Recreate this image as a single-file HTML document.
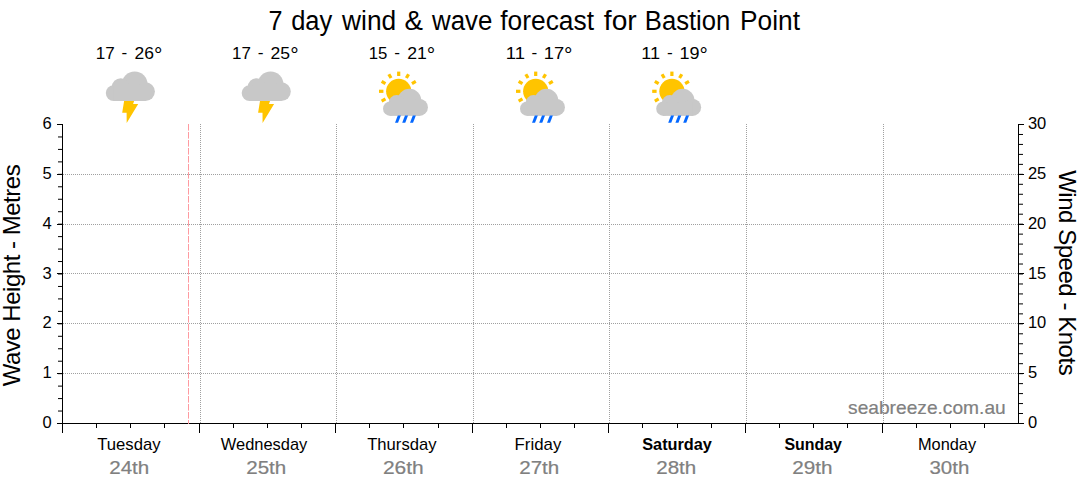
<!DOCTYPE html>
<html><head><meta charset="utf-8"><title>7 day wind &amp; wave forecast for Bastion Point</title>
<style>html,body{margin:0;padding:0;background:#fff}body{width:1080px;height:490px;overflow:hidden;font-family:"Liberation Sans",sans-serif}svg{display:block;font-family:"Liberation Sans",sans-serif}</style>
</head><body>
<svg width="1080" height="490" viewBox="0 0 1080 490">
<rect width="1080" height="490" fill="#fff"/>
<g shape-rendering="crispEdges" fill="none" stroke="#a0a0a0" stroke-width="1" stroke-dasharray="1 1">
<line x1="63" y1="174.5" x2="1018" y2="174.5"/>
<line x1="63" y1="224.5" x2="1018" y2="224.5"/>
<line x1="63" y1="273.5" x2="1018" y2="273.5"/>
<line x1="63" y1="323.5" x2="1018" y2="323.5"/>
<line x1="63" y1="373.5" x2="1018" y2="373.5"/>
<line x1="200.5" y1="124" x2="200.5" y2="423"/>
<line x1="336.5" y1="124" x2="336.5" y2="423"/>
<line x1="473.5" y1="124" x2="473.5" y2="423"/>
<line x1="609.5" y1="124" x2="609.5" y2="423"/>
<line x1="746.5" y1="124" x2="746.5" y2="423"/>
<line x1="883.5" y1="124" x2="883.5" y2="423"/>
</g>
<g shape-rendering="crispEdges" fill="#000">
<rect x="62" y="124" width="1" height="309"/>
<rect x="57" y="423" width="967" height="1"/>
<rect x="1018" y="124" width="1" height="300"/>
<rect x="57" y="124" width="5" height="1"/>
<rect x="1019" y="124" width="5" height="1"/>
<rect x="57" y="174" width="5" height="1"/>
<rect x="1019" y="174" width="5" height="1"/>
<rect x="57" y="224" width="5" height="1"/>
<rect x="1019" y="224" width="5" height="1"/>
<rect x="57" y="273" width="5" height="1"/>
<rect x="1019" y="273" width="5" height="1"/>
<rect x="57" y="323" width="5" height="1"/>
<rect x="1019" y="323" width="5" height="1"/>
<rect x="57" y="373" width="5" height="1"/>
<rect x="1019" y="373" width="5" height="1"/>
<rect x="199" y="424" width="1" height="9"/>
<rect x="335" y="424" width="1" height="9"/>
<rect x="472" y="424" width="1" height="9"/>
<rect x="608" y="424" width="1" height="9"/>
<rect x="745" y="424" width="1" height="9"/>
<rect x="882" y="424" width="1" height="9"/>
<rect x="96" y="424" width="1" height="4"/>
<rect x="130" y="424" width="1" height="4"/>
<rect x="164" y="424" width="1" height="4"/>
<rect x="233" y="424" width="1" height="4"/>
<rect x="267" y="424" width="1" height="4"/>
<rect x="301" y="424" width="1" height="4"/>
<rect x="369" y="424" width="1" height="4"/>
<rect x="403" y="424" width="1" height="4"/>
<rect x="438" y="424" width="1" height="4"/>
<rect x="506" y="424" width="1" height="4"/>
<rect x="540" y="424" width="1" height="4"/>
<rect x="574" y="424" width="1" height="4"/>
<rect x="642" y="424" width="1" height="4"/>
<rect x="677" y="424" width="1" height="4"/>
<rect x="711" y="424" width="1" height="4"/>
<rect x="779" y="424" width="1" height="4"/>
<rect x="813" y="424" width="1" height="4"/>
<rect x="847" y="424" width="1" height="4"/>
<rect x="916" y="424" width="1" height="4"/>
<rect x="950" y="424" width="1" height="4"/>
<rect x="984" y="424" width="1" height="4"/>
</g>
<g stroke="#000" stroke-width="1">
<line x1="58" y1="136.96" x2="62" y2="136.96"/>
<line x1="58" y1="149.42" x2="62" y2="149.42"/>
<line x1="58" y1="161.88" x2="62" y2="161.88"/>
<line x1="58" y1="174.33" x2="62" y2="174.33"/>
<line x1="58" y1="186.79" x2="62" y2="186.79"/>
<line x1="58" y1="199.25" x2="62" y2="199.25"/>
<line x1="58" y1="211.71" x2="62" y2="211.71"/>
<line x1="58" y1="224.17" x2="62" y2="224.17"/>
<line x1="58" y1="236.62" x2="62" y2="236.62"/>
<line x1="58" y1="249.08" x2="62" y2="249.08"/>
<line x1="58" y1="261.54" x2="62" y2="261.54"/>
<line x1="58" y1="274.00" x2="62" y2="274.00"/>
<line x1="58" y1="286.46" x2="62" y2="286.46"/>
<line x1="58" y1="298.92" x2="62" y2="298.92"/>
<line x1="58" y1="311.38" x2="62" y2="311.38"/>
<line x1="58" y1="323.83" x2="62" y2="323.83"/>
<line x1="58" y1="336.29" x2="62" y2="336.29"/>
<line x1="58" y1="348.75" x2="62" y2="348.75"/>
<line x1="58" y1="361.21" x2="62" y2="361.21"/>
<line x1="58" y1="373.67" x2="62" y2="373.67"/>
<line x1="58" y1="386.12" x2="62" y2="386.12"/>
<line x1="58" y1="398.58" x2="62" y2="398.58"/>
<line x1="58" y1="411.04" x2="62" y2="411.04"/>
<line x1="1019" y1="134.47" x2="1023" y2="134.47"/>
<line x1="1019" y1="144.43" x2="1023" y2="144.43"/>
<line x1="1019" y1="154.40" x2="1023" y2="154.40"/>
<line x1="1019" y1="164.37" x2="1023" y2="164.37"/>
<line x1="1019" y1="174.33" x2="1023" y2="174.33"/>
<line x1="1019" y1="184.30" x2="1023" y2="184.30"/>
<line x1="1019" y1="194.27" x2="1023" y2="194.27"/>
<line x1="1019" y1="204.23" x2="1023" y2="204.23"/>
<line x1="1019" y1="214.20" x2="1023" y2="214.20"/>
<line x1="1019" y1="224.17" x2="1023" y2="224.17"/>
<line x1="1019" y1="234.13" x2="1023" y2="234.13"/>
<line x1="1019" y1="244.10" x2="1023" y2="244.10"/>
<line x1="1019" y1="254.07" x2="1023" y2="254.07"/>
<line x1="1019" y1="264.03" x2="1023" y2="264.03"/>
<line x1="1019" y1="274.00" x2="1023" y2="274.00"/>
<line x1="1019" y1="283.97" x2="1023" y2="283.97"/>
<line x1="1019" y1="293.93" x2="1023" y2="293.93"/>
<line x1="1019" y1="303.90" x2="1023" y2="303.90"/>
<line x1="1019" y1="313.87" x2="1023" y2="313.87"/>
<line x1="1019" y1="323.83" x2="1023" y2="323.83"/>
<line x1="1019" y1="333.80" x2="1023" y2="333.80"/>
<line x1="1019" y1="343.77" x2="1023" y2="343.77"/>
<line x1="1019" y1="353.73" x2="1023" y2="353.73"/>
<line x1="1019" y1="363.70" x2="1023" y2="363.70"/>
<line x1="1019" y1="373.67" x2="1023" y2="373.67"/>
<line x1="1019" y1="383.63" x2="1023" y2="383.63"/>
<line x1="1019" y1="393.60" x2="1023" y2="393.60"/>
<line x1="1019" y1="403.57" x2="1023" y2="403.57"/>
<line x1="1019" y1="413.53" x2="1023" y2="413.53"/>
</g>
<line x1="188.5" y1="124" x2="188.5" y2="424" stroke="#ff9aa0" stroke-width="1" stroke-dasharray="6.6 1.4"/>
<g font-size="16.5" fill="#000">
<text x="51.7" y="129.05" text-anchor="end">6</text>
<text x="1027.9" y="129.05">30</text>
<text x="51.7" y="178.88" text-anchor="end">5</text>
<text x="1027.9" y="178.88">25</text>
<text x="51.7" y="228.72" text-anchor="end">4</text>
<text x="1027.9" y="228.72">20</text>
<text x="51.7" y="278.55" text-anchor="end">3</text>
<text x="1027.9" y="278.55">15</text>
<text x="51.7" y="328.38" text-anchor="end">2</text>
<text x="1027.9" y="328.38">10</text>
<text x="51.7" y="378.22" text-anchor="end">1</text>
<text x="1027.9" y="378.22">5</text>
<text x="51.7" y="428.05" text-anchor="end">0</text>
<text x="1027.9" y="428.05">0</text>
</g>
<text transform="translate(20.2,275.35) rotate(-90)" text-anchor="middle" font-size="24" textLength="222" lengthAdjust="spacing" fill="#000">Wave Height - Metres</text>
<text transform="translate(1058.6,272.9) rotate(90)" text-anchor="middle" font-size="24" textLength="205.5" lengthAdjust="spacing" fill="#000">Wind Speed - Knots</text>
<text x="268.39" y="30.00" font-size="27" fill="#000" textLength="14.00" lengthAdjust="spacingAndGlyphs">7</text>
<text x="291.18" y="30.00" font-size="27" fill="#000" textLength="41.08" lengthAdjust="spacingAndGlyphs">day</text>
<text x="342.11" y="30.00" font-size="27" fill="#000" textLength="54.14" lengthAdjust="spacingAndGlyphs">wind</text>
<text x="404.54" y="30.00" font-size="27" fill="#000" textLength="18.46" lengthAdjust="spacingAndGlyphs">&amp;</text>
<text x="432.11" y="30.00" font-size="27" fill="#000" textLength="60.28" lengthAdjust="spacingAndGlyphs">wave</text>
<text x="500.22" y="30.00" font-size="27" fill="#000" textLength="93.74" lengthAdjust="spacingAndGlyphs">forecast</text>
<text x="603.84" y="30.00" font-size="27" fill="#000" textLength="32.87" lengthAdjust="spacingAndGlyphs">for</text>
<text x="644.85" y="30.00" font-size="27" fill="#000" textLength="85.48" lengthAdjust="spacingAndGlyphs">Bastion</text>
<text x="740.09" y="30.00" font-size="27" fill="#000" textLength="59.91" lengthAdjust="spacingAndGlyphs">Point</text>
<text x="95.88" y="59.00" font-size="16.5" fill="#000" textLength="19.00" lengthAdjust="spacingAndGlyphs">17</text>
<text x="121.63" y="58.30" font-size="16.5" fill="#000" textLength="5.70" lengthAdjust="spacingAndGlyphs">-</text>
<text x="134.50" y="59.00" font-size="16.5" fill="#000" textLength="19.41" lengthAdjust="spacingAndGlyphs">26</text>
<text x="153.90" y="61.80" font-size="19.5" fill="#000" textLength="8.44" lengthAdjust="spacingAndGlyphs">°</text>
<text x="232.06" y="59.00" font-size="16.5" fill="#000" textLength="18.85" lengthAdjust="spacingAndGlyphs">17</text>
<text x="257.65" y="58.30" font-size="16.5" fill="#000" textLength="5.77" lengthAdjust="spacingAndGlyphs">-</text>
<text x="270.54" y="59.00" font-size="16.5" fill="#000" textLength="19.52" lengthAdjust="spacingAndGlyphs">25</text>
<text x="290.15" y="61.80" font-size="19.5" fill="#000" textLength="8.46" lengthAdjust="spacingAndGlyphs">°</text>
<text x="368.77" y="59.00" font-size="16.5" fill="#000" textLength="18.65" lengthAdjust="spacingAndGlyphs">15</text>
<text x="394.38" y="58.30" font-size="16.5" fill="#000" textLength="5.75" lengthAdjust="spacingAndGlyphs">-</text>
<text x="407.20" y="59.00" font-size="16.5" fill="#000" textLength="19.61" lengthAdjust="spacingAndGlyphs">21</text>
<text x="426.70" y="61.80" font-size="19.5" fill="#000" textLength="8.49" lengthAdjust="spacingAndGlyphs">°</text>
<text x="505.77" y="59.00" font-size="16.5" fill="#000" textLength="19.13" lengthAdjust="spacingAndGlyphs">11</text>
<text x="531.52" y="58.30" font-size="16.5" fill="#000" textLength="5.74" lengthAdjust="spacingAndGlyphs">-</text>
<text x="543.81" y="59.00" font-size="16.5" fill="#000" textLength="20.36" lengthAdjust="spacingAndGlyphs">17</text>
<text x="563.92" y="61.80" font-size="19.5" fill="#000" textLength="8.49" lengthAdjust="spacingAndGlyphs">°</text>
<text x="641.39" y="59.00" font-size="16.5" fill="#000" textLength="18.85" lengthAdjust="spacingAndGlyphs">11</text>
<text x="666.90" y="58.30" font-size="16.5" fill="#000" textLength="5.75" lengthAdjust="spacingAndGlyphs">-</text>
<text x="679.46" y="59.00" font-size="16.5" fill="#000" textLength="20.07" lengthAdjust="spacingAndGlyphs">19</text>
<text x="699.54" y="61.80" font-size="19.5" fill="#000" textLength="8.31" lengthAdjust="spacingAndGlyphs">°</text>
<text x="97.22" y="450.00" font-size="16.4" fill="#000" textLength="63.31" lengthAdjust="spacingAndGlyphs">Tuesday</text>
<text x="220.75" y="450.00" font-size="16.4" fill="#000" textLength="86.60" lengthAdjust="spacingAndGlyphs">Wednesday</text>
<text x="367.22" y="450.00" font-size="16.4" fill="#000" textLength="69.27" lengthAdjust="spacingAndGlyphs">Thursday</text>
<text x="514.59" y="450.00" font-size="16.4" fill="#000" textLength="46.76" lengthAdjust="spacingAndGlyphs">Friday</text>
<text x="642.23" y="450.00" font-size="16.4" fill="#000" font-weight="bold" textLength="69.71" lengthAdjust="spacingAndGlyphs">Saturday</text>
<text x="784.38" y="450.00" font-size="16.4" fill="#000" font-weight="bold" textLength="57.53" lengthAdjust="spacingAndGlyphs">Sunday</text>
<text x="917.94" y="450.00" font-size="16.4" fill="#000" textLength="58.21" lengthAdjust="spacingAndGlyphs">Monday</text>
<text x="109.26" y="474.00" font-size="18.4" fill="#808080" stroke="#808080" stroke-width="0.2" textLength="40.01" lengthAdjust="spacingAndGlyphs">24th</text>
<text x="246.26" y="474.00" font-size="18.4" fill="#808080" stroke="#808080" stroke-width="0.2" textLength="40.01" lengthAdjust="spacingAndGlyphs">25th</text>
<text x="382.92" y="474.00" font-size="18.4" fill="#808080" stroke="#808080" stroke-width="0.2" textLength="40.84" lengthAdjust="spacingAndGlyphs">26th</text>
<text x="519.26" y="474.00" font-size="18.4" fill="#808080" stroke="#808080" stroke-width="0.2" textLength="40.01" lengthAdjust="spacingAndGlyphs">27th</text>
<text x="656.26" y="474.00" font-size="18.4" fill="#808080" stroke="#808080" stroke-width="0.2" textLength="40.01" lengthAdjust="spacingAndGlyphs">28th</text>
<text x="792.21" y="474.00" font-size="18.4" fill="#808080" stroke="#808080" stroke-width="0.2" textLength="40.22" lengthAdjust="spacingAndGlyphs">29th</text>
<text x="929.41" y="474.00" font-size="18.4" fill="#808080" stroke="#808080" stroke-width="0.2" textLength="39.89" lengthAdjust="spacingAndGlyphs">30th</text>
<text x="848.08" y="414.00" font-size="19" fill="#808080" stroke="#808080" stroke-width="0.2" textLength="157.62" lengthAdjust="spacingAndGlyphs">seabreeze.com.au</text>
<g transform="translate(105.5,71.4) scale(1)" fill="#c8c8c8"><circle cx="29.2" cy="12.9" r="12.9"/><circle cx="15.3" cy="15.8" r="9"/><circle cx="8.2" cy="21.7" r="7.9"/><circle cx="40" cy="20.2" r="9.4"/><rect x="8.2" y="14.6" width="31.8" height="15"/></g><polygon transform="translate(0,0)" fill="#ffc400" points="124.1,101 134.1,101 133.1,104 138.2,104 126.7,123 126.6,112.8 122.2,112.8"/>
<g transform="translate(241.4,71.4) scale(1)" fill="#c8c8c8"><circle cx="29.2" cy="12.9" r="12.9"/><circle cx="15.3" cy="15.8" r="9"/><circle cx="8.2" cy="21.7" r="7.9"/><circle cx="40" cy="20.2" r="9.4"/><rect x="8.2" y="14.6" width="31.8" height="15"/></g><polygon transform="translate(135.9,0)" fill="#ffc400" points="124.1,101 134.1,101 133.1,104 138.2,104 126.7,123 126.6,112.8 122.2,112.8"/>
<g fill="#ffc400"><circle cx="398.70" cy="91.3" r="12.6"/><rect x="397.10" y="71.60" width="3.2" height="4.4" transform="rotate(-120 398.70 91.3)"/><rect x="397.10" y="71.60" width="3.2" height="4.4" transform="rotate(-90 398.70 91.3)"/><rect x="397.10" y="71.60" width="3.2" height="4.4" transform="rotate(-60 398.70 91.3)"/><rect x="397.10" y="71.60" width="3.2" height="4.4" transform="rotate(-30 398.70 91.3)"/><rect x="397.10" y="71.60" width="3.2" height="4.4" transform="rotate(0 398.70 91.3)"/><rect x="397.10" y="71.60" width="3.2" height="4.4" transform="rotate(30 398.70 91.3)"/><rect x="397.10" y="71.60" width="3.2" height="4.4" transform="rotate(60 398.70 91.3)"/></g><g transform="translate(382.75,88.8) scale(0.915)" fill="#c8c8c8"><circle cx="29.2" cy="12.9" r="12.9"/><circle cx="15.3" cy="15.8" r="9"/><circle cx="8.2" cy="21.7" r="7.9"/><circle cx="40" cy="20.2" r="9.4"/><rect x="8.2" y="14.6" width="31.8" height="15"/></g><g fill="#0468ff" transform="translate(0,0)"><polygon points="397.8,115.6 400.85,115.6 398.05,122.8 395.00,122.8"/><polygon points="405.0,115.6 408.05,115.6 405.25,122.8 402.20,122.8"/><polygon points="412.8,115.6 415.85,115.6 413.05,122.8 410.00,122.8"/></g>
<g fill="#ffc400"><circle cx="535.70" cy="91.3" r="12.6"/><rect x="534.10" y="71.60" width="3.2" height="4.4" transform="rotate(-120 535.70 91.3)"/><rect x="534.10" y="71.60" width="3.2" height="4.4" transform="rotate(-90 535.70 91.3)"/><rect x="534.10" y="71.60" width="3.2" height="4.4" transform="rotate(-60 535.70 91.3)"/><rect x="534.10" y="71.60" width="3.2" height="4.4" transform="rotate(-30 535.70 91.3)"/><rect x="534.10" y="71.60" width="3.2" height="4.4" transform="rotate(0 535.70 91.3)"/><rect x="534.10" y="71.60" width="3.2" height="4.4" transform="rotate(30 535.70 91.3)"/><rect x="534.10" y="71.60" width="3.2" height="4.4" transform="rotate(60 535.70 91.3)"/></g><g transform="translate(519.75,88.8) scale(0.915)" fill="#c8c8c8"><circle cx="29.2" cy="12.9" r="12.9"/><circle cx="15.3" cy="15.8" r="9"/><circle cx="8.2" cy="21.7" r="7.9"/><circle cx="40" cy="20.2" r="9.4"/><rect x="8.2" y="14.6" width="31.8" height="15"/></g><g fill="#0468ff" transform="translate(137,0)"><polygon points="397.8,115.6 400.85,115.6 398.05,122.8 395.00,122.8"/><polygon points="405.0,115.6 408.05,115.6 405.25,122.8 402.20,122.8"/><polygon points="412.8,115.6 415.85,115.6 413.05,122.8 410.00,122.8"/></g>
<g fill="#ffc400"><circle cx="671.90" cy="91.3" r="12.6"/><rect x="670.30" y="71.60" width="3.2" height="4.4" transform="rotate(-120 671.90 91.3)"/><rect x="670.30" y="71.60" width="3.2" height="4.4" transform="rotate(-90 671.90 91.3)"/><rect x="670.30" y="71.60" width="3.2" height="4.4" transform="rotate(-60 671.90 91.3)"/><rect x="670.30" y="71.60" width="3.2" height="4.4" transform="rotate(-30 671.90 91.3)"/><rect x="670.30" y="71.60" width="3.2" height="4.4" transform="rotate(0 671.90 91.3)"/><rect x="670.30" y="71.60" width="3.2" height="4.4" transform="rotate(30 671.90 91.3)"/><rect x="670.30" y="71.60" width="3.2" height="4.4" transform="rotate(60 671.90 91.3)"/></g><g transform="translate(655.95,88.8) scale(0.915)" fill="#c8c8c8"><circle cx="29.2" cy="12.9" r="12.9"/><circle cx="15.3" cy="15.8" r="9"/><circle cx="8.2" cy="21.7" r="7.9"/><circle cx="40" cy="20.2" r="9.4"/><rect x="8.2" y="14.6" width="31.8" height="15"/></g><g fill="#0468ff" transform="translate(273.2,0)"><polygon points="397.8,115.6 400.85,115.6 398.05,122.8 395.00,122.8"/><polygon points="405.0,115.6 408.05,115.6 405.25,122.8 402.20,122.8"/><polygon points="412.8,115.6 415.85,115.6 413.05,122.8 410.00,122.8"/></g>
</svg></body></html>
